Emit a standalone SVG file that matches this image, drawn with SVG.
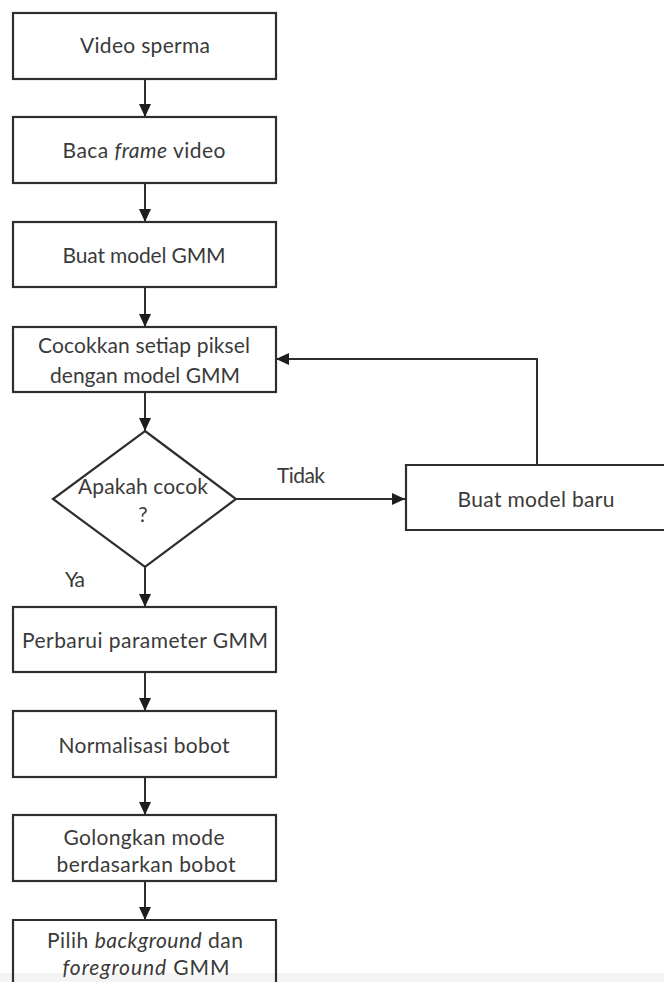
<svg xmlns="http://www.w3.org/2000/svg" width="664" height="982" viewBox="0 0 664 982">
  <style>
    .box { fill: none; stroke: #2e2e2e; stroke-width: 2.2; }
    .line { fill: none; stroke: #2e2e2e; stroke-width: 2; }
    .lbl { font-family: "Lato", "Liberation Sans", sans-serif; font-size: 21px; fill: #3a3a3a; text-anchor: middle; }
    .it { font-style: italic; }
  </style>
  <defs>
    <marker id="arr" viewBox="0 0 13 12" refX="13" refY="6" markerWidth="13" markerHeight="12" orient="auto" markerUnits="userSpaceOnUse">
      <path d="M0,0 L13,6 L0,12 z" fill="#1e1e1e"/>
    </marker>
  </defs>
  <rect width="664" height="982" fill="#ffffff"/>
  <rect x="0" y="973" width="664" height="9" fill="#f4f4f4"/>

  <g id="connectors">
    <line class="line" x1="145" y1="79" x2="145" y2="117" marker-end="url(#arr)"/>
    <line class="line" x1="145" y1="183" x2="145" y2="222" marker-end="url(#arr)"/>
    <line class="line" x1="145" y1="287" x2="145" y2="327" marker-end="url(#arr)"/>
    <line class="line" x1="145" y1="392" x2="145" y2="431" marker-end="url(#arr)"/>
    <line class="line" x1="236" y1="499" x2="405" y2="499" marker-end="url(#arr)"/>
    <polyline class="line" points="537,465 537,359 276,359" marker-end="url(#arr)"/>
    <line class="line" x1="145" y1="567" x2="145" y2="607" marker-end="url(#arr)"/>
    <line class="line" x1="145" y1="672" x2="145" y2="711" marker-end="url(#arr)"/>
    <line class="line" x1="145" y1="777" x2="145" y2="815" marker-end="url(#arr)"/>
    <line class="line" x1="145" y1="881" x2="145" y2="920" marker-end="url(#arr)"/>
    <text class="lbl" x="301" y="483" textLength="48">Tidak</text>
    <text class="lbl" x="75" y="587" textLength="20">Ya</text>
  </g>

  <g id="video-sperma">
    <rect class="box" x="13" y="13" width="263" height="66"/>
    <text class="lbl" x="145" y="53" textLength="130">Video sperma</text>
  </g>
  <g id="baca-frame">
    <rect class="box" x="13" y="117" width="263" height="66"/>
    <text class="lbl" x="144" y="158" textLength="163">Baca <tspan class="it">frame</tspan> video</text>
  </g>
  <g id="buat-model-gmm">
    <rect class="box" x="13" y="222" width="263" height="65"/>
    <text class="lbl" x="144" y="263" textLength="163">Buat model GMM</text>
  </g>
  <g id="cocokkan">
    <rect class="box" x="13" y="327" width="263" height="65"/>
    <text class="lbl" x="144" y="353" textLength="212">Cocokkan setiap piksel</text>
    <text class="lbl" x="145" y="383" textLength="190">dengan model GMM</text>
  </g>
  <g id="apakah-cocok">
    <polygon class="box" points="145,431 236,499 145,567 53,499"/>
    <text class="lbl" x="143" y="494" textLength="130">Apakah cocok</text>
    <text class="lbl" x="143" y="522">?</text>
  </g>
  <g id="buat-model-baru">
    <path class="box" d="M670,465 L406,465 L406,530 L670,530"/>
    <text class="lbl" x="536" y="507" textLength="157">Buat model baru</text>
  </g>
  <g id="perbarui">
    <rect class="box" x="13" y="607" width="263" height="65"/>
    <text class="lbl" x="145" y="648" textLength="246">Perbarui parameter GMM</text>
  </g>
  <g id="normalisasi">
    <rect class="box" x="13" y="711" width="263" height="66"/>
    <text class="lbl" x="144" y="753" textLength="171">Normalisasi bobot</text>
  </g>
  <g id="golongkan">
    <rect class="box" x="13" y="815" width="263" height="66"/>
    <text class="lbl" x="144" y="845" textLength="161">Golongkan mode</text>
    <text class="lbl" x="146" y="872" textLength="179">berdasarkan bobot</text>
  </g>
  <g id="pilih">
    <path class="box" d="M13,990 L13,920 L276,920 L276,990"/>
    <text class="lbl" x="145" y="948" textLength="196">Pilih <tspan class="it">background</tspan> dan</text>
    <text class="lbl" x="146" y="975" textLength="167"><tspan class="it">foreground</tspan> GMM</text>
  </g>
</svg>
